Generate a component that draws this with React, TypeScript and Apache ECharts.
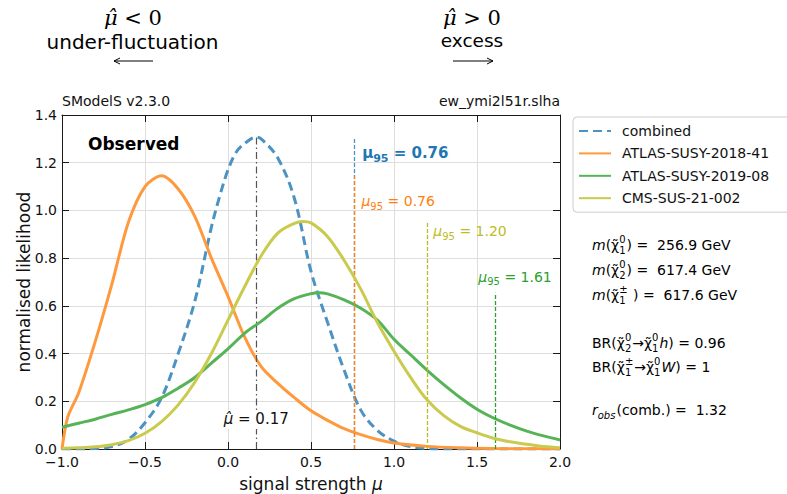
import React, { useEffect, useRef } from "react";
import * as echarts from "echarts";

const FONT = "'DejaVu Sans', sans-serif";
const SERIF = "'DejaVu Serif', serif";

// signal strength grid of the combined curve
const muGrid = [
  -1.0, -0.9, -0.8, -0.7, -0.6, -0.5, -0.4, -0.3, -0.2, -0.1, -0.05,
  0.0, 0.05, 0.1, 0.17, 0.2, 0.3, 0.4, 0.5, 0.6, 0.7, 0.8, 0.9, 1.0,
  1.1, 1.2, 1.3, 1.4, 1.5, 1.6, 1.7, 1.8, 1.9, 2.0,
];
const combinedL = [
  0, 0, 0.002, 0.01, 0.04, 0.11, 0.215, 0.4, 0.62, 0.93, 1.06,
  1.17, 1.245, 1.28, 1.307, 1.3, 1.22, 1.05, 0.745, 0.53, 0.33, 0.163, 0.078, 0.033,
  0.01, 0.002, 0, 0, 0, 0, 0, 0, 0, 0,
];

// ATLAS-SUSY-2019-08
const muAtlas1908 = [
  -1.0, -0.9, -0.8, -0.7, -0.6, -0.5, -0.4, -0.3, -0.2, -0.1,
  0.0, 0.1, 0.2, 0.3, 0.4, 0.5, 0.55, 0.6, 0.7, 0.8, 0.9, 1.0,
  1.1, 1.2, 1.3, 1.4, 1.5, 1.6, 1.7, 1.8, 1.9, 2.0,
];
const atlas1908L = [
  0.091, 0.108, 0.125, 0.145, 0.164, 0.186, 0.215, 0.255, 0.3, 0.36,
  0.42, 0.485, 0.535, 0.59, 0.63, 0.651, 0.655, 0.65, 0.625, 0.59, 0.54, 0.46,
  0.395, 0.33, 0.27, 0.215, 0.167, 0.13, 0.1, 0.075, 0.055, 0.038,
];

// CMS-SUS-21-002
const muCms = [
  -1.0, -0.9, -0.8, -0.7, -0.6, -0.5, -0.4, -0.3, -0.2, -0.1,
  0.0, 0.1, 0.2, 0.3, 0.4, 0.45, 0.5, 0.6, 0.7, 0.8, 0.9, 1.0,
  1.1, 1.2, 1.3, 1.4, 1.5, 1.6, 1.7, 1.8, 1.9, 2.0,
];
const cms21002L = [
  0.003, 0.005, 0.009, 0.018, 0.035, 0.066, 0.115, 0.185, 0.28, 0.4,
  0.54, 0.68, 0.81, 0.905, 0.946, 0.954, 0.948, 0.89, 0.79, 0.67, 0.53, 0.41,
  0.3, 0.205, 0.14, 0.095, 0.068, 0.045, 0.03, 0.02, 0.01, 0.005,
];

// ATLAS-SUSY-2018-41 has a sharp rise right at the lower edge
const muAtlas1841 = [
  -1.0, -0.965, -0.9, -0.8, -0.7, -0.6, -0.5, -0.4, -0.3, -0.2, -0.1,
  0.0, 0.1, 0.2, 0.3, 0.4, 0.5, 0.6, 0.7, 0.8, 0.9, 1.0,
  1.2, 1.4, 1.6, 1.8, 2.0,
];
const atlas1841L = [
  0.0, 0.135, 0.235, 0.45, 0.69, 0.95, 1.1, 1.145, 1.09, 0.975, 0.8,
  0.64, 0.47, 0.345, 0.275, 0.215, 0.16, 0.12, 0.085, 0.06, 0.04, 0.025,
  0.011, 0.005, 0.002, 0.001, 0.0,
];

const muHat = 0.17;
const mu95Combined = 0.76;
const mu95Atlas1841 = 0.76;
const mu95Atlas1908 = 1.61;
const mu95Cms = 1.2;

const mChi10 = 256.9;
const mChi20 = 617.4;
const mChi1pm = 617.6;
const brChi20 = 0.96;
const brChi1pm = 1;
const rObsComb = 1.32;

const xTicks = [-1.0, -0.5, 0.0, 0.5, 1.0, 1.5, 2.0];
const yTicks = [0.0, 0.2, 0.4, 0.6, 0.8, 1.0, 1.2, 1.4];

const BLUE = "#4c92c3";
const ORANGE = "#ff993e";
const GREEN = "#56b356";
const OLIVE = "#c9ca4e";
const BLUE_T = "#1f77b4";
const ORANGE_T = "#ff7f0e";
const GREEN_T = "#2ca02c";
const OLIVE_T = "#bcbd22";

const zip = (xs: number[], ys: number[]) => xs.map((x, i) => [x, ys[i]]);
const peak = (ys: number[]) => Math.max(...ys);

const minus = (v: number) => (v < 0 ? "\u2212" + Math.abs(v).toFixed(1) : v.toFixed(1));

function mu95Label(value: number, color: string, bold: boolean, size: number) {
  return {
    show: true,
    position: "inside",
    align: "left",
    verticalAlign: "middle",
    formatter: `{m|\u03bc}{s|95}{n| = ${value.toFixed(2)}}`,
    rich: {
      m: {
        fontFamily: FONT,
        fontSize: size,
        fontStyle: bold ? "normal" : "italic",
        fontWeight: bold ? "bold" : "normal",
        color,
        lineHeight: size + 6,
      },
      s: {
        fontFamily: FONT,
        fontSize: Math.round(size * 0.7),
        fontWeight: bold ? "bold" : "normal",
        color,
        verticalAlign: "bottom",
        lineHeight: Math.round(size * 0.8),
      },
      n: {
        fontFamily: FONT,
        fontSize: size,
        fontWeight: bold ? "bold" : "normal",
        color,
        lineHeight: size + 6,
      },
    },
  };
}

function vline(mu: number, top: number, color: string, dash: number[], width = 1.3) {
  return [
    { coord: [mu, 0], lineStyle: { color, type: dash, width } },
    { coord: [mu, top] },
  ];
}

const markLineBase = {
  silent: true,
  symbol: ["none", "none"],
  label: { show: false },
};

function textEl(x: number, y: number, text: string, extra: any = {}) {
  return {
    type: "text",
    x,
    y,
    silent: true,
    style: {
      text,
      fontFamily: FONT,
      fontSize: 14,
      fill: "#000",
      align: "left",
      verticalAlign: "middle",
      textAlign: "left",
      textVerticalAlign: "middle",
      ...extra,
    },
  };
}

// --- small math-text layout: runs of normal / italic text and stacked sub/superscripts
type Run =
  | { n: string }
  | { i: string }
  | { sub: string; sup?: string; italic?: boolean };

let measureCtx: CanvasRenderingContext2D | null = null;
function textWidth(text: string, size: number, italic: boolean) {
  if (!measureCtx) measureCtx = document.createElement("canvas").getContext("2d");
  if (!measureCtx) return text.length * size * 0.6;
  measureCtx.font = `${italic ? "italic " : ""}${size}px 'DejaVu Sans'`;
  return measureCtx.measureText(text).width;
}

function mathLine(x0: number, y: number, runs: Run[], size = 14) {
  const small = 10;
  const els: any[] = [];
  let x = x0;
  for (const r of runs) {
    if ("n" in r || "i" in r) {
      const italic = "i" in r;
      const t = "n" in r ? r.n : r.i;
      els.push(textEl(x, y, t, { fontSize: size, fontStyle: italic ? "italic" : "normal" }));
      x += textWidth(t, size, italic);
    } else {
      const it = !!r.italic;
      els.push(textEl(x, y + 5, r.sub, { fontSize: small, fontStyle: it ? "italic" : "normal" }));
      let w = textWidth(r.sub, small, it);
      if (r.sup) {
        els.push(textEl(x, y - 6, r.sup, { fontSize: small }));
        w = Math.max(w, textWidth(r.sup, small, false));
      }
      x += w + 1;
    }
  }
  return els;
}

const CHI = "\u03c7\u0303";

const infoBlock: [Run[], number][] = [
  [[{ i: "m" }, { n: "(" + CHI }, { sub: "1", sup: "0" }, { n: ") =  " + mChi10.toFixed(1) + " GeV" }], 245],
  [[{ i: "m" }, { n: "(" + CHI }, { sub: "2", sup: "0" }, { n: ") =  " + mChi20.toFixed(1) + " GeV" }], 270],
  [[{ i: "m" }, { n: "(" + CHI }, { sub: "1", sup: "\u00b1" }, { n: " ) =  " + mChi1pm.toFixed(1) + " GeV" }], 295],
  [[{ n: "BR(" + CHI }, { sub: "2", sup: "0" }, { n: "\u2192" + CHI }, { sub: "1", sup: "0" }, { i: "h" }, { n: ") = " + brChi20 }], 343],
  [[{ n: "BR(" + CHI }, { sub: "1", sup: "\u00b1" }, { n: "\u2192" + CHI }, { sub: "1", sup: "0" }, { i: "W" }, { n: ") = " + brChi1pm }], 367],
  [[{ i: "r" }, { sub: "obs", italic: true }, { n: "(comb.) =  " + rObsComb.toFixed(2) }], 410],
];

const axisLine = { show: true, onZero: false, lineStyle: { color: "#1a1a1a", width: 1 } };
const axisTick = { show: true, inside: true, length: 7, lineStyle: { color: "#1a1a1a" } };

function buildOption(): any {
  return {
    animation: false,
    textStyle: { fontFamily: FONT },
    grid: { left: 62, right: 227, top: 115, bottom: 45, containLabel: false, outerBoundsMode: "none" },
    legend: {
      orient: "vertical",
      left: 573,
      top: 117,
      itemWidth: 32,
      itemHeight: 14,
      itemGap: 8.4,
      padding: [7, 40, 7, 5],
      backgroundColor: "rgba(255,255,255,0.85)",
      borderColor: "#cccccc",
      borderWidth: 1,
      borderRadius: 4,
      itemStyle: { opacity: 0 },
      textStyle: { fontFamily: FONT, fontSize: 14, color: "#111", padding: [0, 0, 0, 6] },
      data: ["combined", "ATLAS-SUSY-2018-41", "ATLAS-SUSY-2019-08", "CMS-SUS-21-002"],
    },
    xAxis: [
      {
        type: "value",
        min: -1,
        max: 2,
        interval: 0.5,
        position: "bottom",
        name: "signal strength {i|\u03bc}",
        nameLocation: "middle",
        nameGap: 26,
        nameMoveOverlap: false,
        nameTextStyle: {
          fontFamily: FONT,
          fontSize: 17,
          color: "#111",
          rich: { i: { fontFamily: FONT, fontSize: 17, fontStyle: "italic", color: "#111" } },
        },
        axisLine,
        axisTick,
        axisLabel: {
          fontFamily: FONT,
          fontSize: 14,
          color: "#111",
          margin: 6,
          formatter: (v: number) => (xTicks.includes(v) ? minus(v) : ""),
        },
        splitLine: { show: true, lineStyle: { color: "#dedede", width: 1 } },
      },
      {
        type: "value",
        min: -1,
        max: 2,
        interval: 0.5,
        position: "top",
        axisLine,
        axisTick,
        axisLabel: { show: false },
        splitLine: { show: false },
      },
    ],
    yAxis: [
      {
        type: "value",
        min: 0,
        max: 1.4,
        interval: 0.2,
        position: "left",
        name: "normalised likelihood",
        nameLocation: "middle",
        nameGap: 30,
        nameMoveOverlap: false,
        nameTextStyle: { fontFamily: FONT, fontSize: 17, color: "#111" },
        axisLine,
        axisTick,
        axisLabel: {
          fontFamily: FONT,
          fontSize: 14,
          color: "#111",
          margin: 5,
          formatter: (v: number) => (yTicks.some((t) => Math.abs(t - v) < 1e-9) ? v.toFixed(1) : ""),
        },
        splitLine: { show: true, lineStyle: { color: "#dedede", width: 1 } },
      },
      {
        type: "value",
        min: 0,
        max: 1.4,
        interval: 0.2,
        position: "right",
        axisLine,
        axisTick,
        axisLabel: { show: false },
        splitLine: { show: false },
      },
    ],
    series: [
      {
        name: "combined",
        type: "line",
        data: zip(muGrid, combinedL),
        symbol: "none",
        smooth: 0.35,
        color: BLUE,
        lineStyle: { color: BLUE, width: 3, type: [9, 5] },
        z: 2,
        markLine: {
          ...markLineBase,
          data: [
            vline(muHat, peak(combinedL), "#555555", [7, 3, 1.5, 3], 1.2),
            vline(mu95Combined, peak(combinedL), BLUE, [4, 2]),
          ],
        },
        markPoint: {
          silent: true,
          symbol: "circle",
          symbolSize: 0,
          data: [
            { coord: [0.808, 1.24], label: mu95Label(mu95Combined, BLUE_T, true, 15) },
            {
              coord: [muHat, 0.124],
              label: {
                show: true,
                position: "inside",
                align: "center",
                verticalAlign: "middle",
                backgroundColor: "#ffffff",
                padding: [2, 1],
                formatter: `{m|\u03bc\u0302}{n| = ${muHat.toFixed(2)}}`,
                rich: {
                  m: { fontFamily: FONT, fontSize: 15, fontStyle: "italic", color: "#111" },
                  n: { fontFamily: FONT, fontSize: 15, color: "#111" },
                },
              },
            },
          ],
        },
      },
      {
        name: "ATLAS-SUSY-2018-41",
        type: "line",
        data: zip(muAtlas1841, atlas1841L),
        symbol: "none",
        smooth: 0.3,
        color: ORANGE,
        lineStyle: { color: ORANGE, width: 3 },
        z: 3,
        markLine: {
          ...markLineBase,
          data: [vline(mu95Atlas1841, peak(atlas1841L), ORANGE_T, [4, 2])],
        },
        markPoint: {
          silent: true,
          symbol: "circle",
          symbolSize: 0,
          data: [{ coord: [0.804, 1.038], label: mu95Label(mu95Atlas1841, ORANGE_T, false, 14) }],
        },
      },
      {
        name: "ATLAS-SUSY-2019-08",
        type: "line",
        data: zip(muAtlas1908, atlas1908L),
        symbol: "none",
        smooth: 0.35,
        color: GREEN,
        lineStyle: { color: GREEN, width: 3 },
        z: 4,
        markLine: {
          ...markLineBase,
          data: [vline(mu95Atlas1908, peak(atlas1908L), GREEN_T, [4, 2])],
        },
        markPoint: {
          silent: true,
          symbol: "circle",
          symbolSize: 0,
          data: [{ coord: [1.508, 0.722], label: mu95Label(mu95Atlas1908, GREEN_T, false, 14) }],
        },
      },
      {
        name: "CMS-SUS-21-002",
        type: "line",
        data: zip(muCms, cms21002L),
        symbol: "none",
        smooth: 0.35,
        color: OLIVE,
        lineStyle: { color: OLIVE, width: 3 },
        z: 5,
        markLine: {
          ...markLineBase,
          data: [vline(mu95Cms, peak(cms21002L), OLIVE_T, [4, 2])],
        },
        markPoint: {
          silent: true,
          symbol: "circle",
          symbolSize: 0,
          data: [{ coord: [1.237, 0.912], label: mu95Label(mu95Cms, OLIVE_T, false, 14) }],
        },
      },
    ],
    graphic: [
      textEl(133, 18, "{i|\u03bc\u0302} < 0", {
        fontFamily: SERIF,
        fontSize: 21,
        align: "center",
        textAlign: "center",
        rich: { i: { fontFamily: SERIF, fontSize: 21, fontStyle: "italic", fill: "#000" } },
      }),
      textEl(132.5, 42, "under-fluctuation", { fontSize: 20, align: "center", textAlign: "center" }),
      { type: "line", silent: true, shape: { x1: 114, y1: 61, x2: 153, y2: 61 }, style: { stroke: "#000", lineWidth: 1 } },
      { type: "polyline", silent: true, shape: { points: [[120, 58], [114, 61], [120, 64]] }, style: { stroke: "#000", fill: null, lineWidth: 1 } },
      textEl(472, 18, "{i|\u03bc\u0302} > 0", {
        fontFamily: SERIF,
        fontSize: 21,
        align: "center",
        textAlign: "center",
        rich: { i: { fontFamily: SERIF, fontSize: 21, fontStyle: "italic", fill: "#000" } },
      }),
      textEl(472, 40, "excess", { fontSize: 18.5, align: "center", textAlign: "center" }),
      { type: "line", silent: true, shape: { x1: 453, y1: 61, x2: 493, y2: 61 }, style: { stroke: "#000", lineWidth: 1 } },
      { type: "polyline", silent: true, shape: { points: [[487, 58], [493, 61], [487, 64]] }, style: { stroke: "#000", fill: null, lineWidth: 1 } },
      textEl(62, 101, "SModelS v2.3.0", { fontSize: 14, fill: "#111" }),
      textEl(560, 101, "ew_ymi2l51r.slha", { fontSize: 14, fill: "#111", align: "right", textAlign: "right" }),
      textEl(88, 144, "Observed", { fontSize: 17, fontWeight: "bold" }),
      ...infoBlock.flatMap(([runs, y]) => mathLine(592, y, runs)),
    ],
  };
}

export default function App() {
  const ref = useRef<HTMLDivElement>(null);
  useEffect(() => {
    document.body.style.margin = "0";
    const chart = echarts.init(ref.current!, null, { renderer: "svg" });
    chart.setOption(buildOption());
    return () => chart.dispose();
  }, []);
  return <div ref={ref} style={{ width: 787, height: 494 }} />;
}
